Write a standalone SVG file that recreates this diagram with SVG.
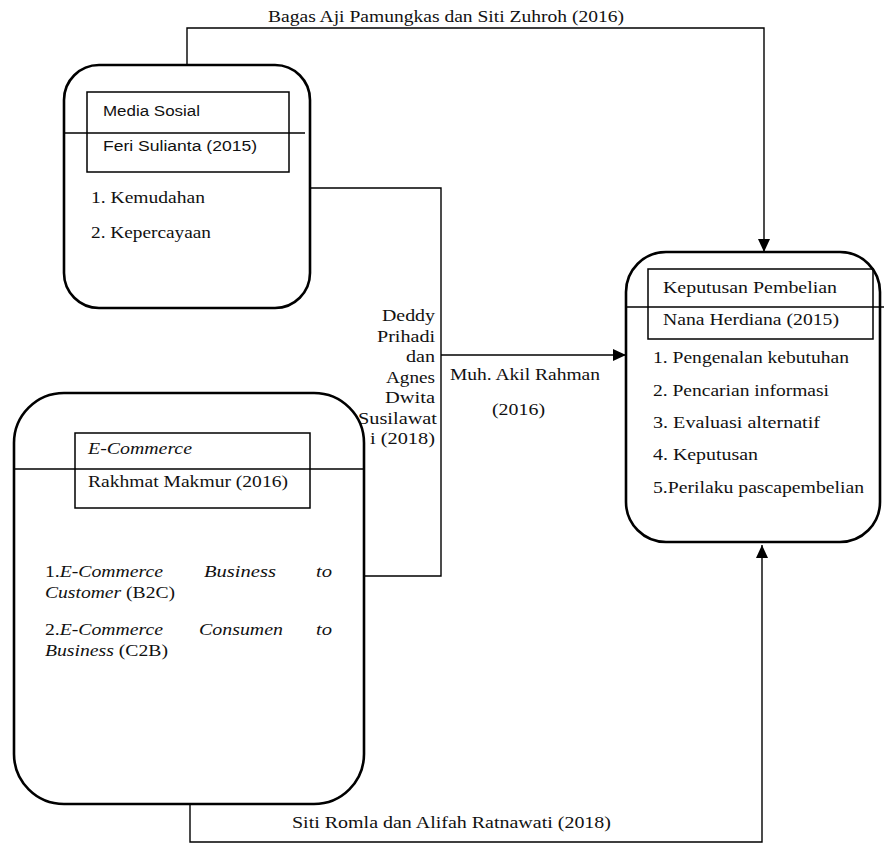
<svg xmlns="http://www.w3.org/2000/svg" width="884" height="844" viewBox="0 0 884 844">
<defs>
<marker id="arr" markerUnits="userSpaceOnUse" markerWidth="14" markerHeight="12" viewBox="0 0 14 12" refX="13" refY="6" orient="auto">
<path d="M0,0 L13,6 L0,12 Z" fill="#000"/>
</marker>
<style>
.box{fill:#fff;stroke:#000;stroke-width:2.6}
.inner{fill:none;stroke:#000;stroke-width:1.5}
.sep{stroke:#000;stroke-width:1.3}
.conn{fill:none;stroke:#000;stroke-width:1.4}
.s{font-family:"Liberation Serif","Times New Roman",serif;font-size:16px;fill:#111}
.it{font-style:italic}
.sans{font-family:"Liberation Sans","Noto Sans",Arial,sans-serif;font-size:14px;fill:#111}
</style>
</defs>
<rect width="884" height="844" fill="#fff"/>

<g id="connectors">
<path class="conn" d="M187,65 V28 H764 V252" marker-end="url(#arr)"/>
<path class="conn" d="M310,188 H441 V576 H364"/>
<path class="conn" d="M441,355 H626" marker-end="url(#arr)"/>
<path class="conn" d="M190,804 V842 H762 V545" marker-end="url(#arr)"/>
<text class="s" x="268" y="22" textLength="356" lengthAdjust="spacingAndGlyphs">Bagas Aji Pamungkas dan Siti Zuhroh (2016)</text>
<text class="s" x="292" y="828" textLength="319" lengthAdjust="spacingAndGlyphs">Siti Romla dan Alifah Ratnawati (2018)</text>
<text class="s" x="450" y="380" textLength="150" lengthAdjust="spacingAndGlyphs">Muh. Akil Rahman</text>
<text class="s" x="492" y="415" textLength="53" lengthAdjust="spacingAndGlyphs">(2016)</text>
<text class="s" x="382" y="321" textLength="53" lengthAdjust="spacingAndGlyphs">Deddy</text>
<text class="s" x="377" y="341.5" textLength="58" lengthAdjust="spacingAndGlyphs">Prihadi</text>
<text class="s" x="406" y="362" textLength="29" lengthAdjust="spacingAndGlyphs">dan</text>
<text class="s" x="386" y="382.5" textLength="49" lengthAdjust="spacingAndGlyphs">Agnes</text>
<text class="s" x="385" y="403" textLength="50" lengthAdjust="spacingAndGlyphs">Dwita</text>
<text class="s" x="358" y="423.5" textLength="79" lengthAdjust="spacingAndGlyphs">Susilawat</text>
<text class="s" x="370" y="444" textLength="65" lengthAdjust="spacingAndGlyphs">i (2018)</text>
</g>

<g id="media-sosial">
<rect class="box" x="64" y="65" width="246" height="243" rx="35" ry="35"/>
<rect class="inner" x="87" y="92" width="202" height="80"/>
<line class="sep" x1="64" y1="133" x2="305" y2="133"/>
<text class="sans" x="103" y="116" textLength="97" lengthAdjust="spacingAndGlyphs">Media Sosial</text>
<text class="sans" x="103" y="151" textLength="154" lengthAdjust="spacingAndGlyphs">Feri Sulianta (2015)</text>
<text class="s" x="91" y="203" textLength="114" lengthAdjust="spacingAndGlyphs">1. Kemudahan</text>
<text class="s" x="91" y="238" textLength="120" lengthAdjust="spacingAndGlyphs">2. Kepercayaan</text>
</g>

<g id="e-commerce">
<rect class="box" x="14" y="393" width="350" height="411" rx="50" ry="50"/>
<rect class="inner" x="75" y="433" width="235" height="75"/>
<line class="sep" x1="14" y1="469" x2="364" y2="469"/>
<text class="s it" x="88" y="454" textLength="104" lengthAdjust="spacingAndGlyphs">E-Commerce</text>
<text class="s" x="88" y="487" textLength="200" lengthAdjust="spacingAndGlyphs">Rakhmat Makmur (2016)</text>
<text class="s" x="45" y="577" textLength="118" lengthAdjust="spacingAndGlyphs">1.<tspan class="it">E-Commerce</tspan></text>
<text class="s it" x="204" y="577" textLength="72" lengthAdjust="spacingAndGlyphs">Business</text>
<text class="s it" x="316" y="577" textLength="16" lengthAdjust="spacingAndGlyphs">to</text>
<text class="s" x="45" y="598" textLength="130" lengthAdjust="spacingAndGlyphs"><tspan class="it">Customer</tspan> (B2C)</text>
<text class="s" x="45" y="635" textLength="118" lengthAdjust="spacingAndGlyphs">2.<tspan class="it">E-Commerce</tspan></text>
<text class="s it" x="199" y="635" textLength="84" lengthAdjust="spacingAndGlyphs">Consumen</text>
<text class="s it" x="316" y="635" textLength="16" lengthAdjust="spacingAndGlyphs">to</text>
<text class="s" x="45" y="656" textLength="123" lengthAdjust="spacingAndGlyphs"><tspan class="it">Business</tspan> (C2B)</text>
</g>

<g id="keputusan-pembelian">
<rect class="box" x="626" y="252" width="254" height="290" rx="40" ry="40"/>
<rect class="inner" x="648" y="269" width="225" height="70"/>
<line class="sep" x1="626" y1="307" x2="884" y2="307"/>
<text class="s" x="663" y="293" textLength="174" lengthAdjust="spacingAndGlyphs">Keputusan Pembelian</text>
<text class="s" x="663" y="325" textLength="176" lengthAdjust="spacingAndGlyphs">Nana Herdiana (2015)</text>
<text class="s" x="653" y="363" textLength="196" lengthAdjust="spacingAndGlyphs">1. Pengenalan kebutuhan</text>
<text class="s" x="653" y="396" textLength="176" lengthAdjust="spacingAndGlyphs">2. Pencarian informasi</text>
<text class="s" x="653" y="428" textLength="167" lengthAdjust="spacingAndGlyphs">3. Evaluasi alternatif</text>
<text class="s" x="653" y="460" textLength="105" lengthAdjust="spacingAndGlyphs">4. Keputusan</text>
<text class="s" x="653" y="493" textLength="211" lengthAdjust="spacingAndGlyphs">5.Perilaku pascapembelian</text>
</g>
</svg>
